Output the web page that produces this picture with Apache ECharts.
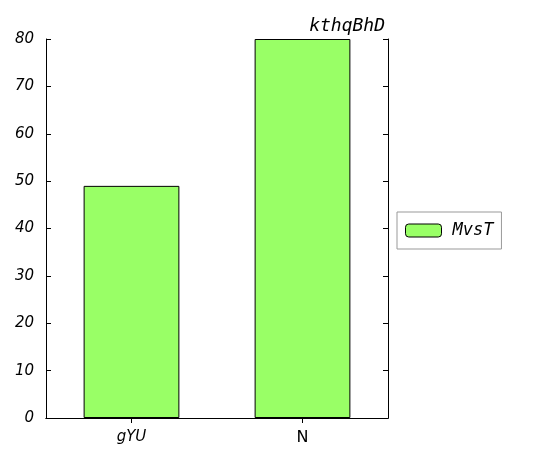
<!DOCTYPE html>
<html><head><meta charset="utf-8">
<script src="https://cdn.jsdelivr.net/npm/echarts@6/dist/echarts.min.js"></script>
<style>html,body{margin:0;padding:0;background:#fff}#main{width:539px;height:462px}</style>
</head><body><div id="main"></div>
<script>
var categories = ['gYU', 'N'];
var values = [49, 80];
var seriesName = 'MvsT';
var titleText = 'kthqBhD';

var chart = echarts.init(document.getElementById('main'));
var tickStyle = {show: true, inside: true, length: 5, lineStyle: {color: '#000'}};
chart.setOption({
  animation: false,
  title: {text: titleText, right: 149, top: 12, textStyle: {fontFamily: 'DejaVu Sans Mono', fontStyle: 'italic', fontWeight: 'normal', fontSize: 18, color: '#000'}},
  legend: {
    orient: 'vertical', left: 397, top: 212, padding: [10, 8, 10, 8],
    borderColor: '#999', borderWidth: 1,
    itemWidth: 36, itemHeight: 13, itemGap: 0,
    textStyle: {fontFamily: 'DejaVu Sans Mono', fontStyle: 'italic', fontSize: 17, color: '#000', padding: [0, 0, 0, 6]},
    data: [{name: seriesName, itemStyle: {borderColor: '#000', borderWidth: 1}}]
  },
  grid: {left: 46, right: 151, top: 39, bottom: 44},
  xAxis: [
    {type: 'category', data: categories, axisLine: {lineStyle: {color: '#000'}},
     axisTick: {show: true, inside: true, alignWithLabel: true, length: 5, lineStyle: {color: '#000'}},
     axisLabel: {fontSize: 15, color: '#000', margin: 12,
       formatter: function (v, i) { return i === 0 ? '{i|' + v + '}' : '{n|' + v + '}'; },
       rich: {i: {fontStyle: 'italic', fontSize: 15, fontFamily: 'DejaVu Sans'}, n: {fontSize: 16, fontFamily: 'DejaVu Sans'}}}},
    {type: 'category', data: categories, position: 'top', axisLine: {lineStyle: {color: '#000'}},
     axisTick: {show: true, inside: true, alignWithLabel: true, length: 5, lineStyle: {color: '#000'}}, axisLabel: {show: false}}
  ],
  yAxis: [
    {type: 'value', min: 0, max: 80, interval: 10, axisLine: {show: true, lineStyle: {color: '#000'}},
     axisTick: tickStyle, splitLine: {show: false},
     axisLabel: {fontStyle: 'italic', fontFamily: 'DejaVu Sans', fontSize: 15, color: '#000', margin: 12}},
    {type: 'value', min: 0, max: 80, interval: 10, position: 'right', axisLine: {show: true, lineStyle: {color: '#000'}},
     axisTick: tickStyle, splitLine: {show: false}, axisLabel: {show: false}}
  ],
  series: [{
    name: seriesName, type: 'bar', data: values, barWidth: '56%',
    itemStyle: {color: '#99ff66', borderColor: '#000', borderWidth: 1}
  }]
});
</script></body></html>
